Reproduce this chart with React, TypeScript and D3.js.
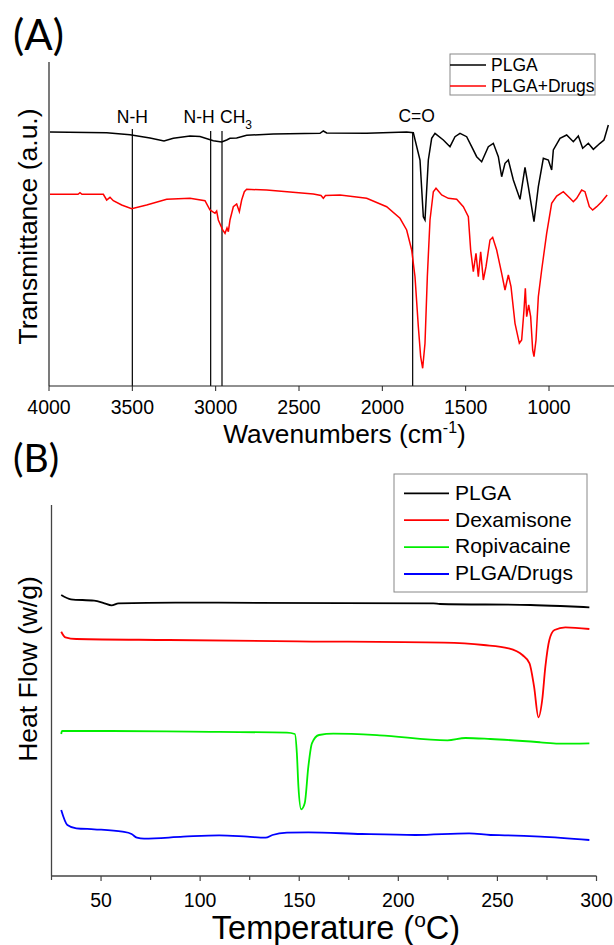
import React from "react";
import * as d3 from "d3";

// ---------- Panel A: FTIR ----------
const ftirTicks = [4000, 3500, 3000, 2500, 2000, 1500, 1000];
const plgaWn = [3994,3654,3514,3394,3310,3254,3154,3094,3014,2964,2934,2914,2874,2814,2654,2374,2354,2334,2094,1854,1814,1774,1754,1744,1724,1704,1684,1634,1594,1564,1534,1494,1464,1434,1404,1364,1334,1304,1284,1264,1244,1214,1174,1144,1124,1090,1064,1034,1004,984,974,934,894,854,824,798,764,734,694,670,644];
const plgaT = [25.4,25.33,25.13,24.8,24.5,24.77,25.0,24.95,24.53,24.4,24.6,24.77,24.8,25.07,25.2,25.27,25.5,25.3,25.27,25.4,25.33,22.6,16.93,16.6,22.6,24.77,25.27,24.6,23.93,24.93,25.27,24.93,23.93,22.93,22.43,23.93,24.27,22.93,20.93,22.27,22.6,20.6,18.67,21.87,19.93,16.43,19.93,22.77,22.6,21.6,23.6,24.77,25.1,24.43,25.0,23.77,24.27,23.67,24.27,24.6,26.1];
const drugsWn = [3994,3826,3814,3802,3674,3654,3634,3614,3564,3504,3414,3294,3154,3064,3034,3004,2994,2984,2958,2944,2932,2924,2914,2894,2874,2858,2844,2828,2814,2694,2414,2368,2354,2341,2254,2094,1974,1894,1854,1824,1804,1784,1770,1758,1744,1730,1714,1694,1678,1644,1604,1554,1514,1484,1470,1454,1438,1424,1410,1394,1378,1354,1338,1314,1284,1264,1244,1228,1204,1178,1164,1150,1142,1134,1122,1110,1098,1090,1078,1064,1044,1014,984,954,914,874,854,834,804,784,758,738,714,684,651];
const drugsT = [19.17,19.17,19.33,19.17,19.17,18.6,18.87,18.53,18.1,17.73,18.1,18.67,18.77,18.53,17.6,17.27,17.5,16.6,15.6,15.27,15.8,15.43,16.6,17.93,18.2,17.43,18.6,19.43,19.67,19.6,19.2,19.05,18.77,19.05,19.1,18.77,17.93,16.77,15.6,13.6,10.93,5.93,2.93,1.77,4.27,10.93,16.6,19.43,19.77,19.1,18.77,18.67,17.93,16.93,13.6,11.43,13.27,10.93,13.43,10.6,11.93,14.6,14.87,13.6,11.27,9.6,11.1,9.93,6.27,4.27,4.6,7.6,9.77,6.93,8.1,6.93,3.6,2.93,4.6,8.93,11.6,15.27,18.27,19.0,19.43,18.77,18.43,18.77,19.6,19.43,17.93,17.6,17.93,18.43,19.1];
const markerWn = [3500, 3030, 2962, 1818];
const markerTop = [25.7, 25.5, 25.5, 25.4];
const ftirSeries = ["PLGA", "PLGA+Drugs"];

// ---------- Panel B: DSC ----------
const dscTicks = [50, 100, 150, 200, 250, 300];
const dscMinor = [25, 75, 125, 175, 225, 275];
const dscNames = ["PLGA", "Dexamisone", "Ropivacaine", "PLGA/Drugs"];
const dscPlgaT = [29.9, 34.8, 46.5, 51.7, 55.3, 58.8, 87.6, 217.7, 221, 266.7, 281.8, 296.4];
const dscPlgaV = [28.1, 27.67, 27.53, 27.27, 27.07, 27.27, 27.33, 27.27, 27.2, 27.1, 27.0, 26.87];
const dscDexT = [29.9, 32, 37.5, 84.3, 149, 223, 243, 255.6, 262.6, 266.2, 268.5, 270.7, 272.6, 274.2, 276.2, 278.8, 284.3, 296.4];
const dscDexV = [24.43, 23.87, 23.7, 23.6, 23.47, 23.33, 23.1, 22.77, 22.1, 21.27, 18.93, 15.87, 17.6, 20.93, 23.6, 24.6, 24.87, 24.7];
const dscRopT = [29.9, 30.3, 55, 95, 143.8, 147.8, 148.8, 149.6, 151, 152.8, 154.6, 156.4, 160, 167.2, 190.5, 224.8, 233.9, 246.5, 271.7, 280.8, 296.4];
const dscRopV = [14.2, 14.5, 14.5, 14.43, 14.33, 14.2, 12.3, 8.93, 6.67, 7.3, 10.93, 13.27, 14.1, 14.23, 14.07, 13.57, 13.8, 13.7, 13.37, 13.23, 13.27];
const dscMixT = [29.9, 33, 37.5, 46.5, 60.8, 65.4, 68.1, 71.7, 91.5, 109.6, 123.9, 133, 136.5, 143.8, 154.6, 181.6, 208.6, 235.7, 246.5, 253.7, 271.7, 296.4];
const dscMixV = [6.6, 5.1, 4.77, 4.67, 4.43, 4.2, 3.83, 3.73, 3.93, 4.07, 3.93, 3.83, 4.1, 4.33, 4.37, 4.2, 4.1, 4.27, 4.1, 4.07, 3.93, 3.6];

const zipXY = (xs: number[], ys: number[]) => {
  const n = Math.min(xs.length, ys.length);
  const out: [number, number][] = [];
  for (let i = 0; i < n; i++) out.push([xs[i], ys[i]]);
  return out;
};

const FONT = "'Liberation Sans', Arial, sans-serif";
const PANEL_FONT = "Lato, 'Open Sans', sans-serif";

export default function App() {
  // Panel A scales
  const xA = d3.scaleLinear().domain([4000, 610]).range([49, 614]);
  const yA = d3.scaleLinear().domain([0, 32.4]).range([386, 62]);
  const lineA = d3.line<[number, number]>().x(d => xA(d[0])).y(d => yA(d[1]));

  // Panel B scales
  const xB = d3.scaleLinear().domain([25, 300]).range([51.5, 596.5]);
  const yB = d3.scaleLinear().domain([0, 37.1]).range([876, 505]);
  const lineB = d3.line<[number, number]>().x(d => xB(d[0])).y(d => yB(d[1])).curve(d3.curveMonotoneX);

  const dscData = [
    { name: dscNames[0], pts: zipXY(dscPlgaT, dscPlgaV), color: "#000000" },
    { name: dscNames[1], pts: zipXY(dscDexT, dscDexV), color: "#ff0000" },
    { name: dscNames[2], pts: zipXY(dscRopT, dscRopV), color: "#00ee00" },
    { name: dscNames[3], pts: zipXY(dscMixT, dscMixV), color: "#0000ff" },
  ];

  const markerLabels = [
    { x: xA(markerWn[0]), anchor: "middle", text: "N-H" },
    { x: xA(markerWn[1]) + 4, anchor: "end", text: "N-H" },
  ];

  return (
    <svg width={614} height={945} style={{ position: "absolute", left: 0, top: 0, background: "#fff" }} fontFamily={FONT}>
      {/* ===== Panel A ===== */}
      <text x={13} y={50} fontSize={42} fontFamily={PANEL_FONT}>(A)</text>

      {/* reference lines */}
      {markerWn.map((w, i) => (
        <line key={"m" + i} x1={xA(w)} x2={xA(w)} y1={yA(0)} y2={yA(markerTop[i])} stroke="#000" strokeWidth={1.2} />
      ))}
      {markerLabels.map((m, i) => (
        <text key={"ml" + i} x={m.x} y={122.5} fontSize={17.5} textAnchor={m.anchor as any}>{m.text}</text>
      ))}
      <text x={xA(markerWn[2]) - 2} y={122.5} fontSize={17.5}>
        CH<tspan fontSize={12} dy={6}>3</tspan>
      </text>
      <text x={xA(markerWn[3]) + 4} y={122} fontSize={17.5} textAnchor="middle">C=O</text>

      {/* curves */}
      <path d={lineA(zipXY(plgaWn, plgaT)) || ""} fill="none" stroke="#000" strokeWidth={1.5} />
      <path d={lineA(zipXY(drugsWn, drugsT)) || ""} fill="none" stroke="#ff0000" strokeWidth={1.5} />

      {/* axes */}
      <line x1={49} x2={49} y1={62} y2={386} stroke="#222" strokeWidth={1.2} />
      <line x1={49} x2={614} y1={386} y2={386} stroke="#222" strokeWidth={1.2} />
      {ftirTicks.map(t => (
        <g key={"ta" + t}>
          <line x1={xA(t)} x2={xA(t)} y1={386} y2={391} stroke="#222" strokeWidth={1} />
          <text x={xA(t)} y={413.5} fontSize={19.5} textAnchor="middle">{t}</text>
        </g>
      ))}
      <text x={344.5} y={443} fontSize={26.3} textAnchor="middle">
        Wavenumbers (cm<tspan fontSize={16} dy={-10}>-1</tspan><tspan dy={10}>)</tspan>
      </text>
      <text transform="translate(36.5,226.5) rotate(-90)" fontSize={26.5} textAnchor="middle">Transmittance (a.u.)</text>

      {/* legend A */}
      <rect x={450} y={54} width={145} height={41} fill="#fff" stroke="#888" strokeWidth={1} />
      <line x1={450} x2={486} y1={65} y2={65} stroke="#000" strokeWidth={1.5} />
      <line x1={450} x2={486} y1={86} y2={86} stroke="#ff0000" strokeWidth={1.5} />
      <text x={491} y={71} fontSize={17.5}>{ftirSeries[0]}</text>
      <text x={491} y={92.3} fontSize={17.5}>{ftirSeries[1]}</text>

      {/* ===== Panel B ===== */}
      <text x={13} y={472} fontSize={39} fontFamily={PANEL_FONT}>(B)</text>

      {dscData.map(s => (
        <path key={s.name} d={lineB(s.pts) || ""} fill="none" stroke={s.color} strokeWidth={1.8} />
      ))}

      <line x1={51.5} x2={51.5} y1={505} y2={876} stroke="#444" strokeWidth={1.3} />
      <line x1={51.5} x2={596.5} y1={876} y2={876} stroke="#444" strokeWidth={1.3} />
      {dscTicks.map(t => (
        <g key={"tb" + t}>
          <line x1={xB(t)} x2={xB(t)} y1={876} y2={881} stroke="#444" strokeWidth={1.2} />
          <text x={xB(t)} y={907} fontSize={19.5} textAnchor="middle">{t}</text>
        </g>
      ))}
      {dscMinor.map(t => (
        <line key={"mb" + t} x1={xB(t)} x2={xB(t)} y1={876} y2={880} stroke="#444" strokeWidth={1.2} />
      ))}
      <text x={336} y={939} fontSize={32.5} textAnchor="middle">
        Temperature (<tspan fontSize={21} dy={-12}>o</tspan><tspan dy={12}>C)</tspan>
      </text>
      <text transform="translate(37,669) rotate(-90)" fontSize={26.5} textAnchor="middle">Heat Flow (w/g)</text>

      {/* legend B */}
      <rect x={394} y={474} width={193} height={118} fill="#fff" stroke="#888" strokeWidth={1} />
      {dscData.map((s, i) => (
        <g key={"lg" + s.name}>
          <line x1={404} x2={449} y1={493.3 + i * 26.9} y2={493.3 + i * 26.9} stroke={s.color} strokeWidth={1.8} />
          <text x={455} y={500 + i * 26.7} fontSize={21}>{s.name}</text>
        </g>
      ))}
    </svg>
  );
}
